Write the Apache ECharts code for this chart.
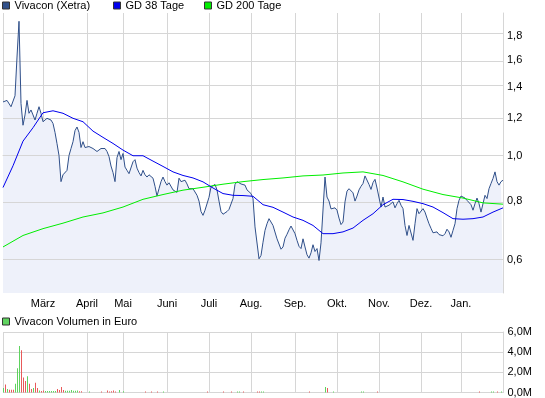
<!DOCTYPE html>
<html>
<head>
<meta charset="utf-8">
<script src="https://cdn.jsdelivr.net/npm/echarts@6/dist/echarts.min.js"></script>
<style>
html, body { margin: 0; padding: 0; background: #fff; }
#chart { width: 545px; height: 398px; }
</style>
</head>
<body>
<div id="chart"></div>
<script>
// Schlusskurse Vivacon (Xetra), ein Wert je Handelstag
var kurs = [
  1.30, 1.29, 1.31, 1.30, 1.27, 1.28, 1.34, 1.62, 1.93, 1.29,
  1.16, 1.22, 1.31, 1.23, 1.25, 1.22, 1.19, 1.23, 1.27, 1.23,
  1.18, 1.18, 1.20, 1.20, 1.19, 1.17, 1.12, 1.06, 1.00, 0.88,
  0.91, 0.915, 0.93, 1.00, 1.035, 1.07, 1.13, 1.15, 1.12, 1.04,
  1.07, 1.04, 1.04, 1.045, 1.04, 1.035, 1.03, 1.02, 1.015, 1.035,
  1.03, 1.035, 1.02, 0.995, 0.95, 0.92, 0.88, 0.99, 1.02, 0.98,
  1.01, 0.945, 0.93, 0.915, 0.92, 0.97, 0.98, 0.94, 0.92, 0.905,
  0.93, 0.91, 0.90, 0.91, 0.91, 0.895, 0.86, 0.82, 0.85, 0.88,
  0.90, 0.88, 0.865, 0.875, 0.88, 0.845, 0.85, 0.835, 0.895, 0.88,
  0.88, 0.886, 0.87, 0.85, 0.85, 0.85, 0.845, 0.823, 0.80, 0.76,
  0.746, 0.765, 0.77, 0.815, 0.857, 0.86, 0.868, 0.845, 0.80, 0.76,
  0.75, 0.744, 0.76, 0.768, 0.77, 0.81, 0.868, 0.88, 0.88, 0.87,
  0.87, 0.865, 0.845, 0.837, 0.83, 0.81, 0.705, 0.70, 0.603, 0.613,
  0.654, 0.693, 0.716, 0.734, 0.736, 0.71, 0.705, 0.665, 0.66, 0.632,
  0.639, 0.667, 0.68, 0.695, 0.708, 0.708, 0.682, 0.66, 0.641, 0.634,
  0.665, 0.639, 0.615, 0.605, 0.621, 0.646, 0.625, 0.634, 0.598, 0.652,
  0.65, 0.90, 0.816, 0.80, 0.77, 0.765, 0.774, 0.765, 0.736, 0.713,
  0.722, 0.797, 0.84, 0.85, 0.848, 0.833, 0.80, 0.82, 0.845, 0.86,
  0.872, 0.905, 0.908, 0.868, 0.847, 0.876, 0.89, 0.853, 0.845, 0.777,
  0.816, 0.777, 0.784, 0.784, 0.79, 0.797, 0.774, 0.79, 0.803, 0.784,
  0.771, 0.71, 0.676, 0.71, 0.705, 0.66, 0.716, 0.771, 0.752, 0.758,
  0.771, 0.758, 0.736, 0.716, 0.70, 0.685, 0.679, 0.688, 0.679, 0.674,
  0.675, 0.682, 0.697, 0.688, 0.67, 0.693, 0.716, 0.771, 0.803, 0.82,
  0.82, 0.812, 0.803, 0.803, 0.786, 0.765, 0.79, 0.812, 0.79, 0.758,
  0.79, 0.823, 0.81, 0.85, 0.872, 0.894, 0.923, 0.88, 0.865, 0.88,
  0.886
];

var gd38Schritt = 5;
var gd38 = [
  0.855, 0.951, 1.073, 1.146, 1.233, 1.245, 1.23, 1.20, 1.18, 1.127,
  1.093, 1.061, 1.027, 0.999, 0.999, 0.973, 0.948, 0.923, 0.907, 0.896,
  0.879, 0.853, 0.83, 0.823, 0.822, 0.819, 0.786, 0.776, 0.758, 0.740,
  0.728, 0.710, 0.682, 0.682, 0.688, 0.701, 0.728, 0.752, 0.786, 0.807,
  0.806, 0.799, 0.79, 0.777, 0.756, 0.734, 0.732, 0.734, 0.740, 0.758,
  0.774
];

var gd200Schritt = 10;
var gd200 = [
  0.639, 0.676, 0.699, 0.718, 0.74, 0.755, 0.777, 0.807, 0.826, 0.844,
  0.856, 0.869, 0.88, 0.889, 0.896, 0.905, 0.909, 0.918, 0.923, 0.907,
  0.879, 0.848, 0.826, 0.812, 0.793, 0.788
];

// Monatsanfaenge (Handelstag-Index) und Beschriftung
var monatStart = [20, 42, 60, 82, 103, 124, 146, 167, 188, 209, 229];
var monatNamen = ['März', 'April', 'Mai', 'Juni', 'Juli', 'Aug.', 'Sep.', 'Okt.', 'Nov.', 'Dez.', 'Jan.'];

var preisTicks = [0.6, 0.8, 1.0, 1.2, 1.4, 1.6, 1.8];
var preisMin = 0.51, preisMax = 2.01;

// Volumen in Mio. Euro, Richtung 1 = Plus, -1 = Minus
var volTage = [
  0, 1, 2, 3, 4, 5, 6, 7, 8, 9, 10, 11, 12, 13, 14, 15, 16, 17, 18, 19,
  20, 21, 22, 23, 24, 25, 26, 27, 28, 29, 30, 31, 32, 33, 34, 35, 36, 37, 38, 39,
  43, 49, 52, 53, 54, 55, 56, 58, 60, 71, 74, 77, 80, 102, 110, 114, 117, 118, 120,
  127, 128, 129, 130, 153, 161, 162, 165, 179, 180, 187, 238, 244, 245, 247, 249
];
var volMio = [
  0.45, 0.8, 0.35, 0.28, 0.28, 0.28, 0.86, 2.4, 4.6, 4.2, 1.5, 1.15, 1.6, 0.86, 0.35, 0.45, 0.97, 0.45, 0.2, 0.15,
  0.2, 0.15, 0.15, 0.15, 0.15, 0.15, 0.15, 0.35, 0.25, 0.55, 0.25, 0.17, 0.17, 0.17, 0.25, 0.17, 0.17, 0.2, 0.12, 0.12,
  0.1, 0.1, 0.2, 0.1, 0.12, 0.2, 0.1, 0.25, 0.12, 0.1, 0.1, 0.1, 0.1, 0.1, 0.1, 0.1, 0.1, 0.1, 0.1,
  0.1, 0.1, 0.1, 0.1, 0.1, 0.55, 0.45, 0.1, 0.1, 0.1, 0.1, 0.1, 0.1, 0.1, 0.1, 0.1
];
var volRichtung = [
  1, -1, 1, -1, -1, -1, 1, 1, 1, -1, -1, -1, 1, -1, -1, 1, -1, -1, 1, -1,
  -1, 1, 1, 1, 1, 1, 1, -1, -1, -1, -1, 1, 1, 1, 1, 1, 1, 1, -1, -1,
  1, -1, -1, -1, -1, -1, -1, 1, 1, -1, -1, -1, 1, -1, -1, -1, 1, 1, -1,
  -1, -1, 1, 1, -1, 1, -1, 1, 1, 1, -1, -1, 1, 1, -1, 1
];

var schrift = "'Liberation Sans', Arial, sans-serif";
var gitter = '#d6d6d6';
var gruen = '#5fd35f', rot = '#e85a5a';

var tage = kurs.map(function (k, i) { return String(i); });
function lg(v) { return Math.log10(v); }
function komma(v, d) { return v.toFixed(d).replace('.', ','); }

var istMonat = function (i) { return monatStart.indexOf(i) >= 0; };
var istLinie = function (i) { return i === 0 || monatStart.indexOf(i) >= 0; };

var myChart = echarts.init(document.getElementById('chart'));

var legendeBasis = {
  padding: 0, itemWidth: 7, itemHeight: 7, icon: 'rect', itemGap: 0,
  selectedMode: false,
  itemStyle: { borderColor: '#333', borderWidth: 1 },
  textStyle: { fontFamily: schrift, fontSize: 11, color: '#000' }
};

var option = {
  animation: false,
  backgroundColor: '#fff',
  legend: [
    Object.assign({}, legendeBasis, { left: 2, top: 0, data: ['Vivacon (Xetra)'] }),
    Object.assign({}, legendeBasis, { left: 113, top: 0, data: ['GD 38 Tage'] }),
    Object.assign({}, legendeBasis, { left: 204, top: 0, data: ['GD 200 Tage'] }),
    Object.assign({}, legendeBasis, { left: 2, top: 316, data: ['Vivacon Volumen in Euro'] })
  ],
  grid: [
    { left: 3, right: 42, top: 13, height: 280 },
    { left: 3.5, right: 41.5, top: 332, height: 61 }
  ],
  xAxis: [
    {
      type: 'category', gridIndex: 0, data: tage, boundaryGap: false,
      axisLine: { show: true, lineStyle: { color: gitter } },
      axisTick: { show: false },
      axisLabel: {
        interval: function (i) { return istMonat(i); },
        formatter: function (v) { return monatNamen[monatStart.indexOf(Number(v))] || ''; },
        fontFamily: schrift, fontSize: 11, color: '#000', margin: 5
      },
      splitLine: { show: true, interval: function (i) { return istLinie(i); }, lineStyle: { color: gitter } }
    },
    {
      type: 'category', gridIndex: 1, data: tage, boundaryGap: false,
      axisLine: { show: true, lineStyle: { color: gitter } },
      axisTick: { show: false },
      axisLabel: { show: false },
      splitLine: { show: true, interval: function (i) { return istLinie(i); }, lineStyle: { color: gitter } }
    }
  ],
  yAxis: [
    {
      type: 'value', gridIndex: 0, position: 'right',
      min: lg(preisMin), max: lg(preisMax),
      axisLine: { show: true, lineStyle: { color: gitter } },
      axisTick: { show: false, customValues: preisTicks.map(lg) },
      axisLabel: {
        customValues: preisTicks.map(lg),
        formatter: function (v) { return komma(Math.pow(10, v), 1); },
        fontFamily: schrift, fontSize: 11, color: '#000', margin: 4
      },
      splitLine: { show: false }
    },
    {
      type: 'value', gridIndex: 1, position: 'right',
      min: 0, max: 6e6, interval: 2e6,
      axisLine: { show: true, lineStyle: { color: gitter } },
      axisTick: { show: false },
      axisLabel: {
        formatter: function (v) { return komma(v / 1e6, 1) + 'M'; },
        fontFamily: schrift, fontSize: 11, color: '#000', margin: 4
      },
      splitLine: { show: true, lineStyle: { color: gitter } }
    }
  ],
  series: [
    {
      // Flaeche unter dem Kurs, Gitterlinien darueber
      name: 'Kursflaeche', type: 'line', xAxisIndex: 0, yAxisIndex: 0,
      data: kurs.map(lg), symbol: 'none', silent: true,
      lineStyle: { width: 0, opacity: 0 },
      areaStyle: { color: '#eef1fa', opacity: 1, origin: 'start' },
      markLine: {
        silent: true, symbol: 'none', animation: false, z: 2,
        label: { show: false },
        emphasis: { disabled: true },
        lineStyle: { color: gitter, type: 'solid', width: 1 },
        data: preisTicks.map(function (v) { return { yAxis: lg(v) }; })
      },
      z: 1
    },
    {
      name: 'Vivacon (Xetra)', type: 'line', xAxisIndex: 0, yAxisIndex: 0,
      data: kurs.map(lg), symbol: 'none', color: '#30508a',
      lineStyle: { width: 1, color: '#30508a' },
      z: 3
    },
    {
      name: 'GD 200 Tage', type: 'line', xAxisIndex: 0, yAxisIndex: 0,
      data: gd200.map(function (v, k) { return [k * gd200Schritt, lg(v)]; }),
      symbol: 'none', color: '#00ee00', lineStyle: { width: 1, color: '#00ee00' }, z: 4
    },
    {
      name: 'GD 38 Tage', type: 'line', xAxisIndex: 0, yAxisIndex: 0,
      data: gd38.map(function (v, k) { return [k * gd38Schritt, lg(v)]; }),
      symbol: 'none', color: '#0000ee', lineStyle: { width: 1, color: '#0000ee' }, z: 4
    },
    {
      name: 'Vivacon Volumen in Euro', type: 'bar', xAxisIndex: 1, yAxisIndex: 1,
      color: gruen, barWidth: 1, z: 3,
      data: volTage.map(function (t, k) {
        return { value: [t, volMio[k] * 1e6], itemStyle: { color: volRichtung[k] > 0 ? gruen : rot } };
      })
    }
  ]
};

myChart.setOption(option);
</script>
</body>
</html>
